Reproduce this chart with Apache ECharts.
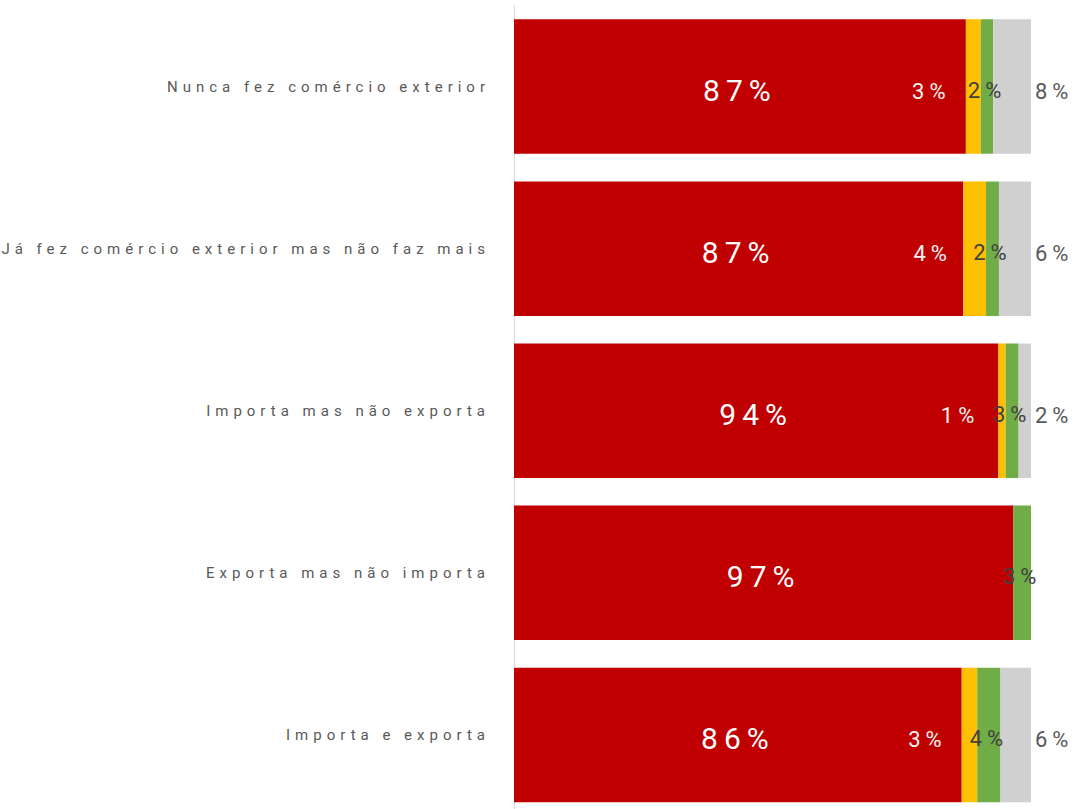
<!DOCTYPE html>
<html>
<head>
<meta charset="utf-8">
<script src="https://cdn.jsdelivr.net/npm/echarts@6/dist/echarts.min.js"></script>
<style>
html,body{margin:0;padding:0;background:#fff;overflow:hidden;}
#chart{width:1080px;height:817px;}
#chart text{letter-spacing:3px;}
#chart text[style*="15px"]{letter-spacing:5px;}
#chart text[style*="22px"]{letter-spacing:5px;}
#chart text[style*="30px"]{letter-spacing:6px;}
</style>
</head>
<body>
<div id="chart"></div>
<script>
var categories = [
  'Nunca fez comércio exterior',
  'Já fez comércio exterior mas não faz mais',
  'Importa mas não exporta',
  'Exporta mas não importa',
  'Importa e exporta'
];
var redValues = [87.4, 86.9, 93.7, 96.6, 86.6];
var yellowValues = [2.9, 4.4, 1.4, 0, 3.0];
var greenValues = [2.4, 2.5, 2.5, 3.4, 4.5];
var grayValues = [7.3, 6.2, 2.4, 0, 5.9];
var redLabels = ['87%', '87%', '94%', '97%', '86%'];
var yellowLabels = ['3%', '4%', '1%', '', '3%'];
var greenLabels = ['2%', '2%', '3%', '3%', '4%'];
var grayLabels = ['8%', '6%', '2%', '', '6%'];

var chart = echarts.init(document.getElementById('chart'), null, {renderer: 'svg'});
function fmt(arr) { return function (p) { return arr[p.dataIndex]; }; }
var FONT = 'Roboto';
chart.setOption({
  animation: false,
  backgroundColor: '#ffffff',
  grid: {left: 514, width: 517, top: 5.5, height: 810.5, containLabel: false},
  xAxis: {type: 'value', min: 0, max: 100, show: false},
  yAxis: {
    type: 'category', inverse: true, data: categories,
    axisLine: {show: true, lineStyle: {color: '#D9D9D9', width: 1}},
    axisTick: {show: false},
    axisLabel: {color: '#595959', fontSize: 15, fontFamily: FONT, margin: 24}
  },
  series: [
    {type: 'bar', stack: 's', data: redValues, barCategoryGap: '17%',
     itemStyle: {color: '#C00000'},
     label: {show: true, position: 'inside', offset: [0, 4], formatter: fmt(redLabels), color: '#ffffff', fontSize: 30, fontFamily: FONT}},
    {type: 'bar', stack: 's', data: yellowValues,
     itemStyle: {color: '#FFC000'},
     label: {show: true, position: 'inside', offset: [-42, 5], formatter: fmt(yellowLabels), color: '#F2F2F2', fontSize: 22, fontFamily: FONT}},
    {type: 'bar', stack: 's', data: greenValues,
     itemStyle: {color: '#70AD47'},
     label: {show: true, position: 'inside', offset: [0, 4], formatter: fmt(greenLabels), color: '#404040', fontSize: 22, fontFamily: FONT}},
    {type: 'bar', stack: 's', data: grayValues,
     itemStyle: {color: '#D0D0D0'},
     label: {show: true, position: 'right', distance: 4, offset: [0, 5], formatter: fmt(grayLabels), color: '#595959', fontSize: 22, fontFamily: FONT}}
  ]
});
</script>
</body>
</html>
